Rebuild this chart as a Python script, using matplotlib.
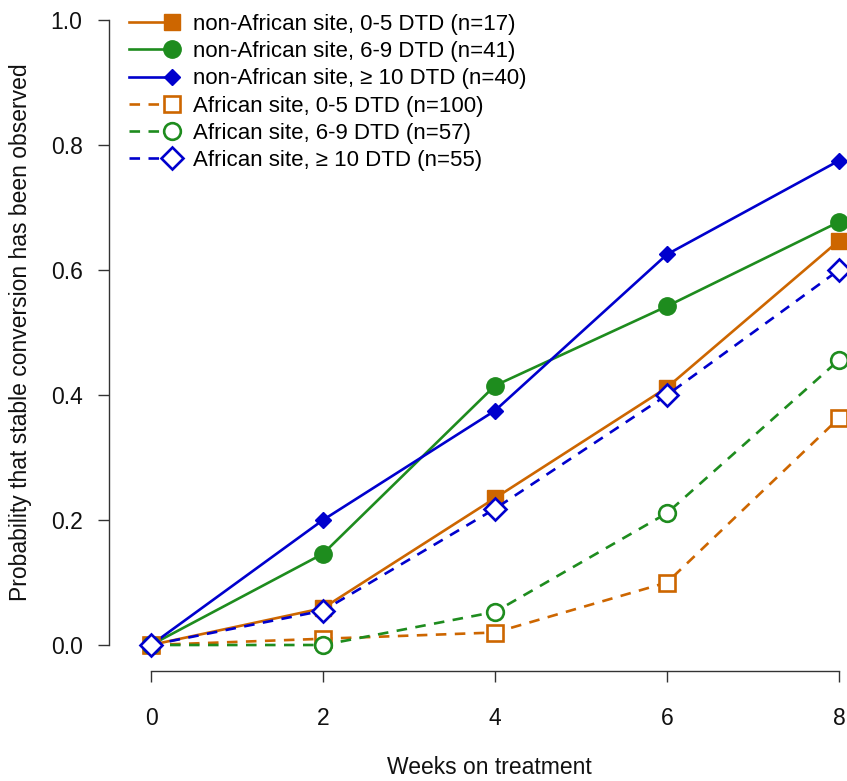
import numpy as np
import matplotlib
matplotlib.use('Agg')
from matplotlib import pyplot as plt
from matplotlib.legend_handler import HandlerLine2DCompound

plt.rcParams['font.family'] = ['Liberation Sans', 'DejaVu Sans']

weeks = [0, 2, 4, 6, 8]

nonafr_0_5 = [0, 0.059, 0.235, 0.412, 0.647]
nonafr_6_9 = [0, 0.146, 0.415, 0.542, 0.677]
nonafr_10 = [0, 0.200, 0.375, 0.625, 0.775]
afr_0_5 = [0, 0.010, 0.020, 0.100, 0.363]
afr_6_9 = [0, 0.000, 0.053, 0.211, 0.456]
afr_10 = [0, 0.055, 0.218, 0.400, 0.600]

labels = ['non-African site, 0-5 DTD (n=17)',
          'non-African site, 6-9 DTD (n=41)',
          'non-African site, \u2265 10 DTD (n=40)',
          'African site, 0-5 DTD (n=100)',
          'African site, 6-9 DTD (n=57)',
          'African site, \u2265 10 DTD (n=55)']

orange = '#CD6600'
green = '#1E8C1E'
blue = '#0000CD'


class EndMarker(HandlerLine2DCompound):
    # one marker at the right end of the legend line, as in the original
    def get_xdata(self, legend, xdescent, ydescent, width, height, fontsize):
        xdata = np.array([-xdescent, -xdescent + width])
        return xdata, np.array([-xdescent + width])


W, H = 847, 781
fig = plt.figure(figsize=(W / 100, H / 100), dpi=100)
ax = fig.add_axes([109 / W, 1 - 671 / H, 1 - 109 / W, 671 / H])

# pixel mapping: x=0 at 151px, 86px per week; y=0 at 645px, 625px per unit
ax.set_xlim((109 - 151) / 86, (W - 151) / 86)
ax.set_ylim(-(671 - 645) / 625, 645 / 625)

lw = 1.9
dash = (0, (4, 3.2))

ax.plot(weeks, nonafr_0_5, color=orange, lw=lw, marker='s', ms=12,
        mfc=orange, mec=orange, mew=1, label=labels[0])
ax.plot(weeks, nonafr_6_9, color=green, lw=lw, marker='o', ms=12.5,
        mfc=green, mec=green, mew=1, label=labels[1])
ax.plot(weeks, nonafr_10, color=blue, lw=lw, marker='D', ms=8.6,
        mfc=blue, mec=blue, mew=1, label=labels[2])
ax.plot(weeks, afr_0_5, color=orange, lw=lw, ls=dash, marker='s', ms=12,
        mfc='white', mec=orange, mew=lw, label=labels[3])
ax.plot(weeks, afr_6_9, color=green, lw=lw, ls=dash, marker='o', ms=12,
        mfc='white', mec=green, mew=lw, label=labels[4])
ax.plot(weeks, afr_10, color=blue, lw=lw, ls=dash, marker='D', ms=11.5,
        mfc='white', mec=blue, mew=lw, label=labels[5])

for s in ['top', 'right']:
    ax.spines[s].set_visible(False)
ax.spines['left'].set_bounds(0, 1)
ax.spines['bottom'].set_bounds(0, 8)
for s in ['left', 'bottom']:
    ax.spines[s].set_color('#333333')
    ax.spines[s].set_linewidth(1.0)

ax.set_xticks(weeks)
ax.set_yticks([0, 0.2, 0.4, 0.6, 0.8, 1.0])
ax.set_yticklabels(['0.0', '0.2', '0.4', '0.6', '0.8', '1.0'])
ax.tick_params(axis='both', direction='out', length=8, width=1.0,
               color='#333333', labelsize=16.5, labelcolor='#111111')
ax.tick_params(axis='y', pad=11)
ax.tick_params(axis='x', pad=18)

fig.text(489 / W, 1 - 768 / H, 'Weeks on treatment', fontsize=16.5,
         ha='center', va='center', color='#111111')
fig.text(21 / W, 1 - 332 / H, 'Probability that stable conversion has been observed',
         fontsize=16.5, rotation=90, ha='center', va='center', color='#111111')

ax.legend(loc='upper left', bbox_to_anchor=(129 / W, 1 - 14 / H),
          bbox_transform=fig.transFigure, frameon=False, fontsize=16,
          handlelength=1.94, handletextpad=0.95,
          labelspacing=0.28, borderpad=0, borderaxespad=0,
          handler_map={matplotlib.lines.Line2D: EndMarker()})

fig.savefig('out.png', dpi=100)
